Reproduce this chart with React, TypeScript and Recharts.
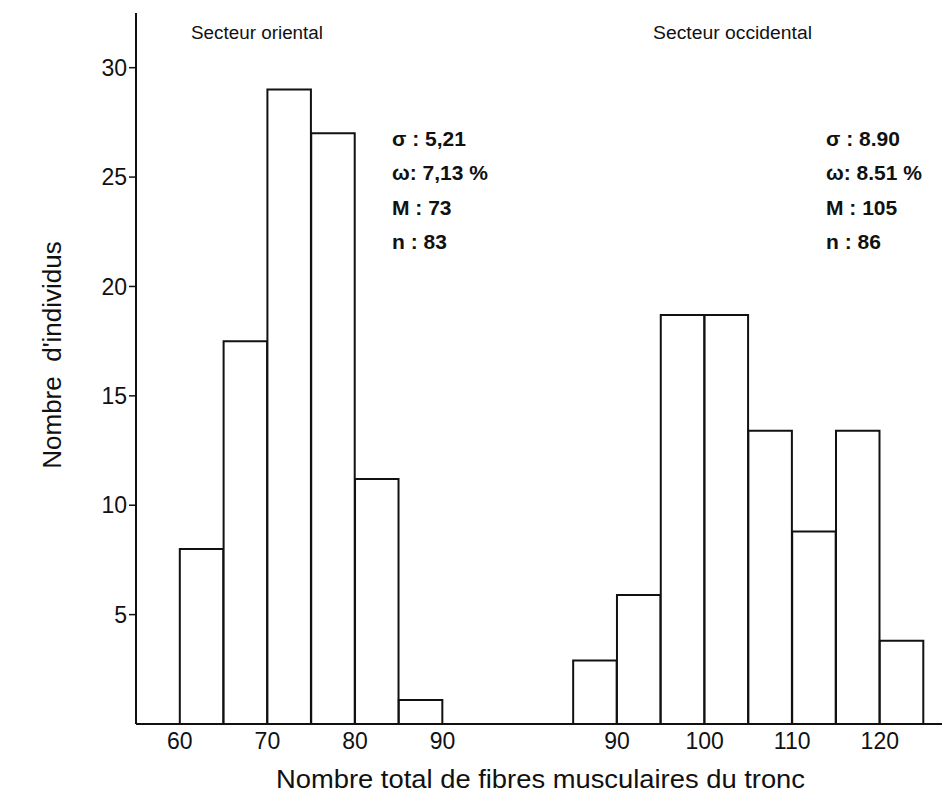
import { BarChart, Bar, XAxis, YAxis } from 'recharts'

// lower bound of each class (width 5) and number of individuals
const orientalStarts = [60, 65, 70, 75, 80, 85]
const orientalCounts = [8, 17.5, 29, 27, 11.2, 1.1]
const occidentalStarts = [85, 90, 95, 100, 105, 110, 115, 120]
const occidentalCounts = [2.9, 5.9, 18.7, 18.7, 13.4, 8.8, 13.4, 3.8]

const orientalTicks = [60, 70, 80, 90]
const occidentalTicks = [90, 100, 110, 120]
const yTicks = [5, 10, 15, 20, 25, 30]

const orientalStats = ['σ : 5,21', 'ω: 7,13 %', 'M : 73', 'n : 83']
const occidentalStats = ['σ : 8.90', 'ω: 8.51 %', 'M : 105', 'n : 86']

const BIN = 5
// broken axis: the occidental sector is drawn further right on the same scale
const SHIFT = 19.9

const W = 942
const H = 796
const LEFT = 136
const TOP = 13
const XAXIS_H = 72
const X_DOMAIN: [number, number] = [55, 147]
const barPx = ((W - LEFT) / (X_DOMAIN[1] - X_DOMAIN[0])) * BIN - 0.3

const data = [
  ...orientalStarts.map((s, i) => ({ x: s + BIN / 2, count: orientalCounts[i] })),
  ...occidentalStarts.map((s, i) => ({ x: s + BIN / 2 + SHIFT, count: occidentalCounts[i] })),
]
const xTicks = [...orientalTicks, ...occidentalTicks.map(t => t + SHIFT)]

const ink = '#111'

export default function App() {
  return (
    <div style={{ position: 'absolute', left: 0, top: 0, width: W, height: H, fontFamily: '"Liberation Sans", Arial, sans-serif' }}>
      <BarChart width={W} height={H} data={data} margin={{ top: TOP, right: 0, bottom: 0, left: 0 }}>
        <XAxis
          type="number"
          dataKey="x"
          domain={X_DOMAIN}
          allowDataOverflow
          ticks={xTicks}
          interval={0}
          height={XAXIS_H}
          tickLine={false}
          tickSize={0}
          tickMargin={9}
          axisLine={{ stroke: ink, strokeWidth: 2 }}
          tick={{ fontSize: 23, fill: ink }}
          tickFormatter={(v: number) => (v > 100 ? String(Math.round(v - SHIFT)) : String(v))}
        />
        <YAxis
          type="number"
          domain={[0, 32.5]}
          ticks={yTicks}
          interval={0}
          width={LEFT}
          tickSize={7}
          tickMargin={2}
          axisLine={{ stroke: ink, strokeWidth: 2 }}
          tickLine={{ stroke: ink, strokeWidth: 1.5 }}
          tick={{ fontSize: 23, fill: ink }}
        />
        <Bar dataKey="count" fill="#fff" stroke={ink} strokeWidth={2} barSize={barPx} isAnimationActive={false} />
      </BarChart>
      <svg width={W} height={H} style={{ position: 'absolute', left: 0, top: 0, pointerEvents: 'none' }}>
        <text x={191} y={39} fontSize={18} fill={ink} textLength={132} lengthAdjust="spacingAndGlyphs">Secteur oriental</text>
        <text x={653} y={39} fontSize={18} fill={ink} textLength={159} lengthAdjust="spacingAndGlyphs">Secteur occidental</text>
        {orientalStats.map((s, i) => (
          <text key={s} x={392} y={146 + i * 34.3} fontSize={21} fontWeight="bold" fill={ink} style={{ whiteSpace: 'pre' }}>{s}</text>
        ))}
        {occidentalStats.map((s, i) => (
          <text key={s} x={826} y={146 + i * 34.3} fontSize={21} fontWeight="bold" fill={ink} style={{ whiteSpace: 'pre' }}>{s}</text>
        ))}
        <text x={276} y={788} fontSize={26} fill={ink} textLength={529} lengthAdjust="spacingAndGlyphs">Nombre total de fibres musculaires du tronc</text>
        <text x={0} y={0} fontSize={26} fill={ink} textAnchor="middle" transform="translate(61 355) rotate(-90)" style={{ whiteSpace: 'pre' }}>{"Nombre  d'individus"}</text>
      </svg>
    </div>
  )
}
